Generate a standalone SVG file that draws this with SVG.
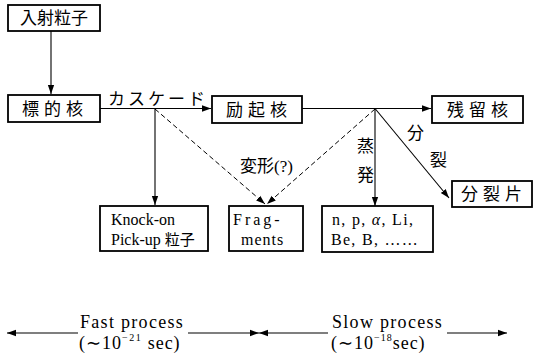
<svg xmlns="http://www.w3.org/2000/svg" width="540" height="361" viewBox="0 0 540 361">
<style>
.box{fill:#fff;stroke:#000;stroke-width:1.8}
.ln{stroke:#000;stroke-width:1.1;fill:none}
.dash{stroke:#000;stroke-width:1;fill:none;stroke-dasharray:5,3}
.jp{font-family:"Liberation Serif","Noto Sans CJK JP",serif;font-size:17px;fill:#000}
.lat{font-family:"Liberation Serif","Noto Sans CJK JP",serif;font-size:16px;fill:#000}
.big{font-family:"Liberation Serif",serif;font-size:18px;fill:#000}
</style>
<defs>
<marker id="ah" viewBox="0 0 10 10" refX="10" refY="5" markerWidth="9" markerHeight="9" markerUnits="userSpaceOnUse" orient="auto">
<path d="M0,1.5 L10,5 L0,8.5 Z" fill="#000"/>
</marker>
</defs>
<rect width="540" height="361" fill="#fff"/>
<g id="connectors">
<line class="ln" x1="51" y1="31" x2="51" y2="94" marker-end="url(#ah)"/>
<line class="ln" x1="100" y1="108.5" x2="211" y2="108.5" marker-end="url(#ah)"/>
<line class="ln" x1="302" y1="108.5" x2="431" y2="108.5" marker-end="url(#ah)"/>
<line class="ln" x1="155" y1="108.5" x2="155" y2="205" marker-end="url(#ah)"/>
<line class="dash" x1="155" y1="109" x2="265" y2="204" marker-end="url(#ah)"/>
<line class="dash" x1="375" y1="109" x2="267" y2="204" marker-end="url(#ah)"/>
<line class="ln" x1="375" y1="108.5" x2="375" y2="206" marker-end="url(#ah)"/>
<line class="ln" x1="375" y1="108.5" x2="449" y2="198" marker-end="url(#ah)"/>
<line class="ln" x1="78" y1="333" x2="7" y2="333" marker-end="url(#ah)"/>
<line class="ln" x1="188" y1="333" x2="259" y2="333" marker-end="url(#ah)"/>
<line class="ln" x1="328" y1="333" x2="259" y2="333" marker-end="url(#ah)"/>
<line class="ln" x1="447" y1="333" x2="507" y2="333" marker-end="url(#ah)"/>
</g>
<g id="labels">
<text class="jp" x="108" y="105" font-size="15" letter-spacing="3">カスケード</text>
<text class="jp" x="240" y="172" font-size="16">変形(?)</text>
<text class="jp" x="357" y="152" font-size="16">蒸</text>
<text class="jp" x="357" y="181" font-size="16">発</text>
<text class="jp" x="407" y="139" font-size="16">分</text>
<text class="jp" x="430" y="166" font-size="16">裂</text>
</g>
<g id="n-nyusha"><rect class="box" x="8" y="5" width="92" height="26"/><text class="jp" x="54" y="24" text-anchor="middle">入射粒子</text></g>
<g id="n-hyoteki"><rect class="box" x="8" y="95" width="92" height="27"/><text class="jp" x="55" y="115" text-anchor="middle" letter-spacing="5">標的核</text></g>
<g id="n-reiki"><rect class="box" x="212" y="96" width="90" height="27"/><text class="jp" x="259" y="116" text-anchor="middle" letter-spacing="5">励起核</text></g>
<g id="n-zanryu"><rect class="box" x="432" y="96" width="91" height="27"/><text class="jp" x="480" y="116" text-anchor="middle" letter-spacing="5">残留核</text></g>
<g id="n-bunretsuhen"><rect class="box" x="452" y="181" width="80" height="26"/><text class="jp" x="494" y="200" text-anchor="middle" letter-spacing="5">分裂片</text></g>
<g id="n-knockon"><rect class="box" x="100" y="206" width="108" height="45"/><text class="lat" x="111" y="225">Knock-on</text><text class="lat" x="111" y="245">Pick-up <tspan font-size="15">粒子</tspan></text></g>
<g id="n-fragments"><rect class="box" x="229" y="206" width="74" height="45"/><text class="lat" x="233" y="225" letter-spacing="3">Frag-</text><text class="lat" x="241" y="245" letter-spacing="1">ments</text></g>
<g id="n-evap"><rect class="box" x="322" y="206" width="111" height="46"/><text class="lat" x="332" y="225" letter-spacing="1.3">n, p, <tspan font-style="italic">α</tspan>, Li,</text><text class="lat" x="331" y="245" letter-spacing="1.3">Be, B, ……</text></g>
<g id="timescale">
<text class="big" x="80" y="328" letter-spacing="1.3">Fast process</text>
<text class="big" x="79" y="349" letter-spacing="1">(∼10<tspan font-size="10" dy="-8" letter-spacing="1.5">−21</tspan><tspan dy="8"> sec)</tspan></text>
<text class="big" x="332" y="328" letter-spacing="1.3">Slow process</text>
<text class="big" x="331" y="349" letter-spacing="1">(∼10<tspan font-size="10" dy="-8">−18</tspan><tspan dy="8">sec)</tspan></text>
</g>
</svg>
